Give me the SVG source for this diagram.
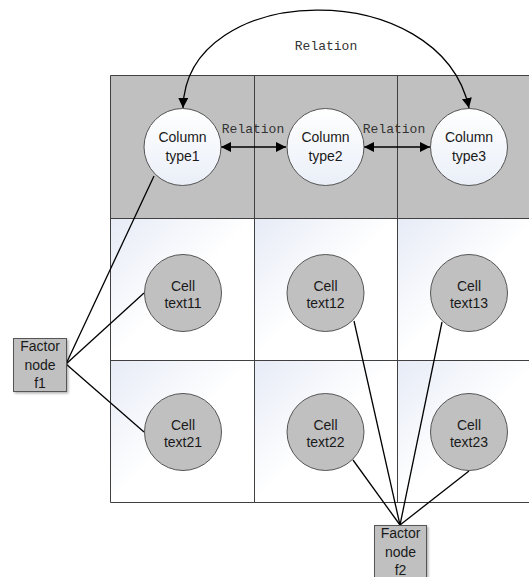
<svg xmlns="http://www.w3.org/2000/svg" width="529" height="577" viewBox="0 0 529 577">
<style>
.grid{stroke:#404040;stroke-width:1;fill:none}
.lbl{font-family:"Liberation Sans",Arial,sans-serif;font-size:14px;fill:#1a1a1a;text-anchor:middle}
.rel{font-family:"Liberation Mono","DejaVu Sans Mono",monospace;font-size:13px;fill:#333;text-anchor:middle}
.col{fill:url(#cg);stroke:#555;stroke-width:1}
.cell{fill:#c0c0c0;stroke:#555;stroke-width:1}
.fac{fill:#c0c0c0;stroke:#555;stroke-width:1}
.con{stroke:#000;stroke-width:1.3;fill:none}
</style>
<defs>
<linearGradient id="bg" x1="0" y1="0" x2="0.5" y2="0.5">
<stop offset="0" stop-color="#e6ebf6"/>
<stop offset="1" stop-color="#ffffff"/>
</linearGradient>
<linearGradient id="cg" x1="0" y1="0" x2="0" y2="1">
<stop offset="0" stop-color="#ffffff"/>
<stop offset="1" stop-color="#eaeff8"/>
</linearGradient>
<marker id="ah" viewBox="0 0 10 10" refX="10" refY="5" markerWidth="10" markerHeight="10" markerUnits="userSpaceOnUse" orient="auto-start-reverse">
<path d="M0,0 L10,5 L0,10 z" fill="#000"/>
</marker>
<filter id="sh" x="-20%" y="-20%" width="150%" height="150%">
<feDropShadow dx="1.5" dy="1.5" stdDeviation="1" flood-color="#000" flood-opacity="0.3"/>
</filter>
</defs>
<g id="grid">
<rect x="110.5" y="75.5" width="430" height="143" fill="#c0c0c0"/>
<rect x="110.5" y="218.5" width="144" height="142" fill="url(#bg)"/>
<rect x="254.5" y="218.5" width="143" height="142" fill="url(#bg)"/>
<rect x="397.5" y="218.5" width="143" height="142" fill="url(#bg)"/>
<rect x="110.5" y="360.5" width="144" height="142" fill="url(#bg)"/>
<rect x="254.5" y="360.5" width="143" height="142" fill="url(#bg)"/>
<rect x="397.5" y="360.5" width="143" height="142" fill="url(#bg)"/>
<path class="grid" d="M540,75.5 H110.5 V502.5 H540 M110.5,218.5 H540 M110.5,360.5 H540 M254.5,75.5 V502.5 M397.5,75.5 V502.5"/>
</g>
<g id="connectors">
<path class="con" d="M183,108 C186,-20 440,-25 469,108" marker-start="url(#ah)" marker-end="url(#ah)"/>
<line class="con" x1="221" y1="147" x2="286" y2="147" marker-start="url(#ah)" marker-end="url(#ah)"/>
<line class="con" x1="364" y1="147" x2="430" y2="147" marker-start="url(#ah)" marker-end="url(#ah)"/>
<line class="con" x1="66" y1="364" x2="154" y2="176"/>
<line class="con" x1="66" y1="364" x2="144" y2="293"/>
<line class="con" x1="66" y1="364" x2="144" y2="432"/>
<line class="con" x1="400" y1="525" x2="354" y2="321"/>
<line class="con" x1="400" y1="525" x2="442" y2="322"/>
<line class="con" x1="400" y1="525" x2="353" y2="460"/>
<line class="con" x1="400" y1="525" x2="469" y2="471"/>
<text class="rel" x="326" y="50">Relation</text>
<text class="rel" x="253" y="133">Relation</text>
<text class="rel" x="394" y="133">Relation</text>
</g>
<g id="type1"><circle class="col" cx="182.5" cy="147" r="38.5"/><text class="lbl" x="182.5" y="142">Column</text><text class="lbl" x="182.5" y="161">type1</text></g>
<g id="type2"><circle class="col" cx="325.5" cy="147" r="38.5"/><text class="lbl" x="325.5" y="142">Column</text><text class="lbl" x="325.5" y="161">type2</text></g>
<g id="type3"><circle class="col" cx="469" cy="147" r="38.5"/><text class="lbl" x="469" y="142">Column</text><text class="lbl" x="469" y="161">type3</text></g>
<g id="text11"><circle class="cell" cx="183" cy="293" r="38.5"/><text class="lbl" x="183" y="291">Cell</text><text class="lbl" x="183" y="308">text11</text></g>
<g id="text12"><circle class="cell" cx="325.5" cy="293" r="38.5"/><text class="lbl" x="325.5" y="291">Cell</text><text class="lbl" x="325.5" y="308">text12</text></g>
<g id="text13"><circle class="cell" cx="469" cy="293" r="38.5"/><text class="lbl" x="469" y="291">Cell</text><text class="lbl" x="469" y="308">text13</text></g>
<g id="text21"><circle class="cell" cx="183" cy="432" r="38.5"/><text class="lbl" x="183" y="430">Cell</text><text class="lbl" x="183" y="447">text21</text></g>
<g id="text22"><circle class="cell" cx="325.5" cy="432" r="38.5"/><text class="lbl" x="325.5" y="430">Cell</text><text class="lbl" x="325.5" y="447">text22</text></g>
<g id="text23"><circle class="cell" cx="469" cy="432" r="38.5"/><text class="lbl" x="469" y="430">Cell</text><text class="lbl" x="469" y="447">text23</text></g>
<g id="f1"><rect class="fac" x="13.5" y="338.5" width="53" height="53" filter="url(#sh)"/><text class="lbl" x="40" y="351">Factor</text><text class="lbl" x="40" y="370">node</text><text class="lbl" x="40" y="388">f1</text></g>
<g id="f2"><rect class="fac" x="374.5" y="525.5" width="52" height="60" filter="url(#sh)"/><text class="lbl" x="400.5" y="538">Factor</text><text class="lbl" x="400.5" y="557">node</text><text class="lbl" x="400.5" y="575">f2</text></g>
</svg>
